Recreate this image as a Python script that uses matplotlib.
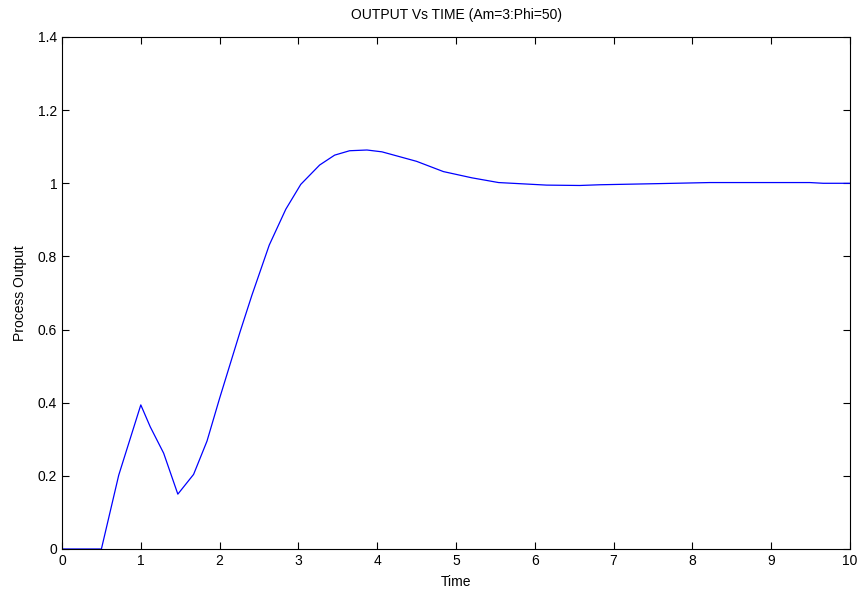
import matplotlib.pyplot as plt
import numpy as np

plt.rcParams['font.family'] = ['Liberation Sans', 'DejaVu Sans']

# Step response
time = [0, 0.5, 0.72, 1.0, 1.12, 1.29, 1.47, 1.67, 1.84, 2.0, 2.26, 2.41,
        2.63, 2.84, 3.03, 3.27, 3.46, 3.65, 3.87, 4.06, 4.5, 4.84, 5.2,
        5.54, 6.15, 6.57, 6.83, 7.55, 8.22, 9.49, 9.66, 10]
output = [0, 0, 0.202, 0.394, 0.334, 0.262, 0.150, 0.204, 0.295, 0.412,
          0.594, 0.694, 0.831, 0.929, 0.997, 1.050, 1.077, 1.089, 1.091,
          1.086, 1.060, 1.032, 1.015, 1.002, 0.995, 0.994, 0.996, 0.999,
          1.002, 1.002, 1.0, 1.0]

fig = plt.figure(figsize=(8.64, 5.9), dpi=100)
ax = fig.add_axes([62/864, 41/590, 788/864, 512/590])

ax.plot(time, output, color='blue', linewidth=0.9)

ax.set_xlim(0, 10)
ax.set_ylim(0, 1.4)
ax.set_xticks(np.arange(0, 11, 1))
ax.set_yticks(np.arange(0, 1.41, 0.2))
ax.set_yticklabels(['0', '0.2', '0.4', '0.6', '0.8', '1', '1.2', '1.4'])
ax.tick_params(direction='in', top=True, right=True, labelsize=10, length=5)
for s in ax.spines.values():
    s.set_linewidth(0.8)

ax.set_title('OUTPUT Vs TIME (Am=3:Phi=50)', fontsize=10, pad=13)
ax.set_xlabel('Time', fontsize=10, labelpad=5)
ax.set_ylabel('Process Output', fontsize=10, labelpad=8)

plt.savefig('out.png', dpi=100)
